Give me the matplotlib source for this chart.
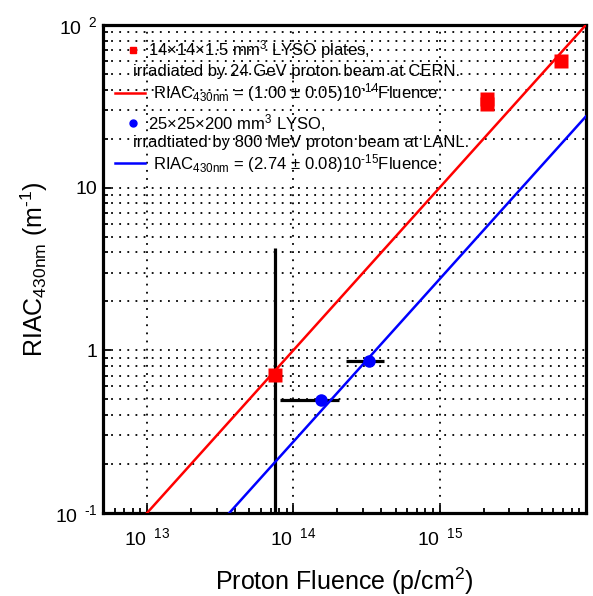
import matplotlib
matplotlib.use("Agg")
import matplotlib.pyplot as plt
from matplotlib.ticker import FuncFormatter, LogLocator, FixedLocator, NullFormatter
import numpy as np

plt.rcParams['font.family'] = ['Liberation Sans', 'DejaVu Sans']
plt.rcParams['mathtext.fontset'] = 'custom'
plt.rcParams['mathtext.rm'] = 'Liberation Sans'
plt.rcParams['mathtext.it'] = 'Liberation Sans'
plt.rcParams['mathtext.default'] = 'regular'

# CERN plates (24 GeV protons)
cern_fluence = [7.5e13, 2.1e15, 2.1e15, 6.8e15]
cern_riac = [0.71, 35.0, 32.5, 60.0]
cern_err_up = [3.54, 0, 0, 0]
cern_err_lo = [0.70, 0, 0, 0]
cern_slope = 1.00e-14

# LANL crystals (800 MeV protons)
lanl_fluence = [1.55e14, 3.3e14]
lanl_riac = [0.495, 0.86]
lanl_flu_lo = [8.1e13, 2.3e14]
lanl_flu_hi = [2.05e14, 4.2e14]
lanl_slope = 2.74e-15

x_decades = [1e13, 1e14, 1e15]
xlim = (5e12, 1e16)
ylim = (0.1, 100)

fig = plt.figure(figsize=(5.93, 5.96), dpi=100)
ax = fig.add_axes([0.1737, 0.1393, 0.8143, 0.8188])
ax.set_xscale('log')
ax.set_yscale('log')
ax.set_xlim(xlim)
ax.set_ylim(ylim)

# grid: horizontal at every tick, vertical only at decades
grid_style = dict(color='black', linestyle=(0, (1, 3.5)), linewidth=1.3)
ax.xaxis.set_major_locator(FixedLocator(x_decades))
ax.yaxis.set_minor_locator(LogLocator(base=10, subs=np.arange(2, 10)))
ax.grid(True, axis='y', which='both', **grid_style)
ax.grid(True, axis='x', which='major', **grid_style)
ax.set_axisbelow(True)

# fit lines
fl = np.logspace(np.log10(xlim[0]), np.log10(xlim[1]), 60)
ax.plot(fl, cern_slope * fl, color='red', lw=1.8, zorder=3)
ax.plot(fl, lanl_slope * fl, color='blue', lw=1.8, zorder=3)

# error bars
ax.errorbar(cern_fluence, cern_riac, yerr=[cern_err_lo, cern_err_up],
            fmt='none', ecolor='black', elinewidth=2.3, capsize=0, zorder=2)
xerr = [np.array(lanl_fluence) - np.array(lanl_flu_lo),
        np.array(lanl_flu_hi) - np.array(lanl_fluence)]
ax.errorbar(lanl_fluence, lanl_riac, xerr=xerr,
            fmt='none', ecolor='black', elinewidth=2.3, capsize=0, zorder=2)

ax.plot(cern_fluence, cern_riac, 's', color='red', ms=9.5, mec='none', zorder=4)
ax.plot(lanl_fluence, lanl_riac, 'o', color='blue', ms=9, mec='none', zorder=4)

# ticks
def xfmt(v, pos):
    return r'$10^{\ \ %d}$' % round(np.log10(v))

def yfmt(v, pos):
    e = round(np.log10(v))
    if e == 0:
        return '1'
    if e == 1:
        return '10'
    return r'$10^{\ \ \text{%d}}$' % e

ax.xaxis.set_major_formatter(FuncFormatter(xfmt))
ax.yaxis.set_major_formatter(FuncFormatter(yfmt))
ax.xaxis.set_minor_formatter(NullFormatter())
ax.yaxis.set_minor_formatter(NullFormatter())
ax.tick_params(which='both', direction='in', top=False, right=False,
               labelsize=14, width=1.3)
ax.tick_params(which='major', length=6)
ax.tick_params(which='minor', length=3.5)
ax.tick_params(axis='x', pad=10)
ax.tick_params(axis='y', pad=4)
for s in ax.spines.values():
    s.set_linewidth(2.3)

ax.set_xlabel(r'Proton Fluence (p/cm$^2$)', fontsize=18, labelpad=12)
ax.set_ylabel(r'RIAC$_{430nm}$ (m$^{\text{-1}}$)', fontsize=18, labelpad=3)

# legend block drawn by hand
fs = 12
tr = ax.transAxes
ax.plot([0.062], [0.949], 's', color='red', ms=5, transform=tr, clip_on=False)
ax.text(0.093, 0.949, r'14$\times$14$\times$1.5 mm$^3$ LYSO plates,', transform=tr,
        fontsize=fs, va='center')
ax.text(0.062, 0.904, 'irradiated by 24 GeV proton beam at CERN.', transform=tr,
        fontsize=fs, va='center')
ax.plot([0.025, 0.087], [0.861, 0.861], color='red', lw=1.8, transform=tr)
ax.text(0.104, 0.861, r'RIAC$_{430nm}$ = (1.00 $\pm$ 0.05)10$^{\text{-14}}$Fluence',
        transform=tr, fontsize=fs, va='center')
ax.plot([0.062], [0.799], 'o', color='blue', ms=5, transform=tr, clip_on=False)
ax.text(0.093, 0.799, r'25$\times$25$\times$200 mm$^3$ LYSO,', transform=tr,
        fontsize=fs, va='center')
ax.text(0.062, 0.760, 'irradtiated by 800 MeV proton beam at LANL.', transform=tr,
        fontsize=fs, va='center')
ax.plot([0.025, 0.087], [0.717, 0.717], color='blue', lw=1.8, transform=tr)
ax.text(0.104, 0.717, r'RIAC$_{430nm}$ = (2.74 $\pm$ 0.08)10$^{\text{-15}}$Fluence',
        transform=tr, fontsize=fs, va='center')

fig.savefig('out.png', dpi=100)
